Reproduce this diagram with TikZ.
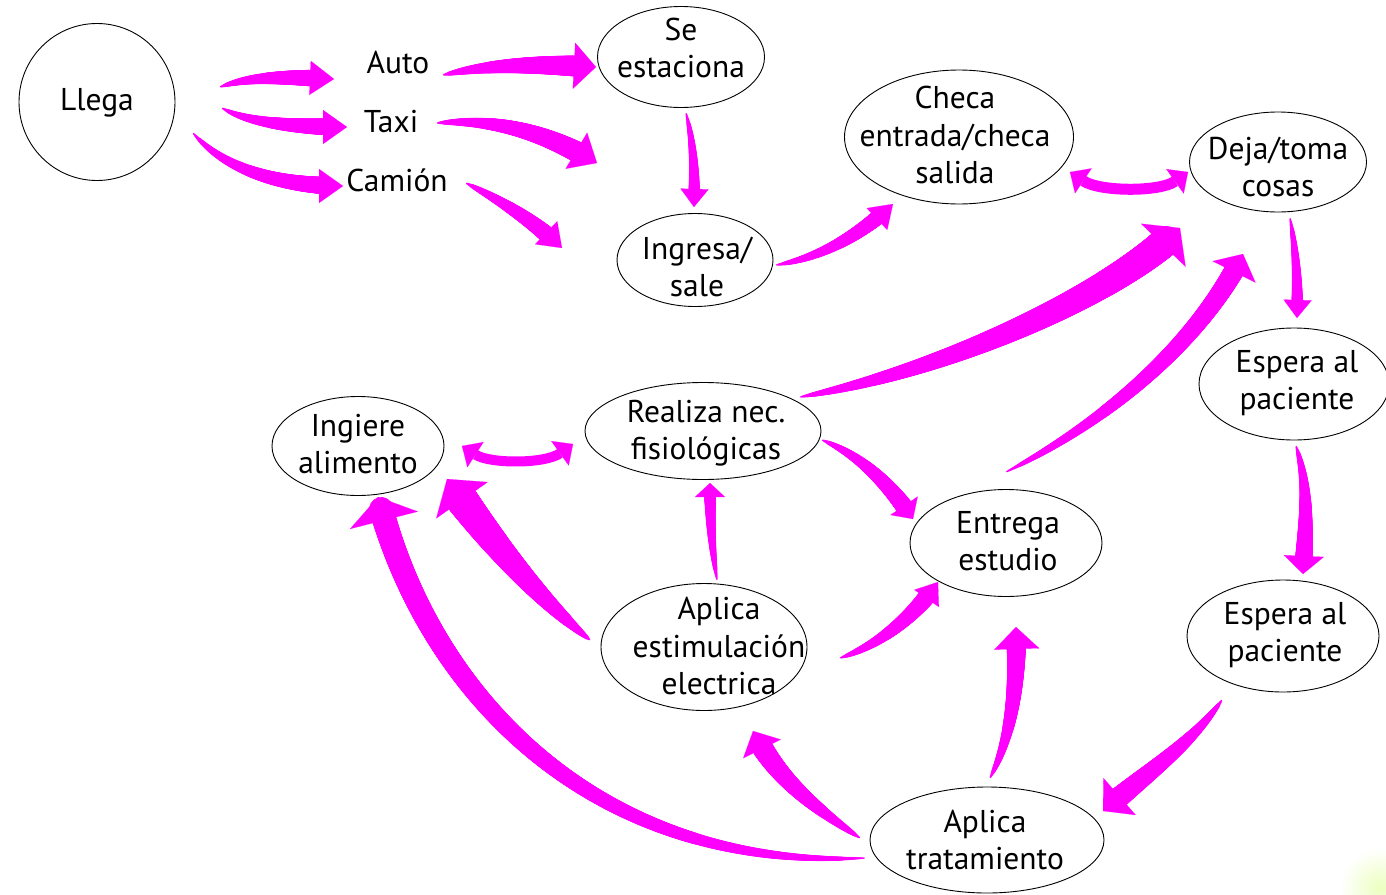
\documentclass[tikz,border=0pt]{standalone}
\usepackage{fontspec}
\setmainfont{PT Sans}
\usetikzlibrary{shapes.geometric,arrows.meta,decorations.markings}
\definecolor{mag}{RGB}{255,0,255}
\tikzset{
  bubble/.style={draw=black, line width=0.9pt, ellipse, inner sep=0pt},
  txt/.style={align=center, inner sep=0pt, font=\fontsize{31.5}{37.5}\selectfont},
  fat/.style n args={3}{%
    draw=mag, line width=0.5pt, -{Triangle[length=#2,width=#3,line width=0.1pt]},
    postaction={decorate,decoration={markings,
      mark=between positions 1pt and -#2 step 0.7pt with {%
        \pgfmathsetmacro\rr{#1*pow(\pgfkeysvalueof{/pgf/decoration/mark info/distance from start}/\pgfdecoratedpathlength,0.6)+0.4}%
        \fill[mag] (0,0) circle[radius=\rr pt];}}}},
  dbl/.style={draw=mag, line width=#1,
    {Triangle[length=16pt,width=30pt,line width=0.1pt]}-{Triangle[length=16pt,width=30pt,line width=0.1pt]}}
}
\begin{document}
\begin{tikzpicture}[x=1pt,y=-1pt]
\useasboundingbox (0,0) rectangle (1386,894);
\fill[white] (0,0) rectangle (1386,894);
\shade[inner color=green!30!yellow!25, outer color=white] (1380,888) circle[radius=40pt];

% nodes (ellipses)
\node[bubble, minimum width=156pt, minimum height=157pt] (llega) at (97,102) {};
\node[bubble, minimum width=167pt, minimum height=101pt] (seest) at (681,57) {};
\node[bubble, minimum width=229pt, minimum height=134pt] (checa) at (959,137) {};
\node[bubble, minimum width=177pt, minimum height=100pt] (deja) at (1278,162) {};
\node[bubble, minimum width=156pt, minimum height=93pt] (ingresa) at (695,260) {};
\node[bubble, minimum width=190pt, minimum height=112pt] (esp1) at (1294,384) {};
\node[bubble, minimum width=172pt, minimum height=99pt] (ingiere) at (358,446) {};
\node[bubble, minimum width=236pt, minimum height=97pt] (realiza) at (703,431) {};
\node[bubble, minimum width=192pt, minimum height=107pt] (entrega) at (1006,543) {};
\node[bubble, minimum width=206pt, minimum height=127pt] (estim) at (704,647) {};
\node[bubble, minimum width=192pt, minimum height=112pt] (esp2) at (1283,636) {};
\node[bubble, minimum width=234pt, minimum height=106pt] (trat) at (987,840) {};

% texts
\node[txt] (tllega) at (97,103) {Llega};
\node[txt] (auto) at (398,62) {Auto};
\node[txt] (taxi) at (391,121) {Taxi};
\node[txt] (camion) at (397,180) {Camión};
\node[txt] (tseest) at (681,48) {Se\\estaciona};
\node[txt] (tchecha) at (955,135) {Checa\\entrada/checa\\salida};
\node[txt] (tdeja) at (1278,167) {Deja/toma\\cosas};
\node[txt] (tingresa) at (697,267) {Ingresa/\\sale};
\node[txt] (tesp1) at (1297,383) {Espera al\\paciente};
\node[txt] (tingiere) at (358,444) {Ingiere\\alimento};
\node[txt] (trealiza) at (706,433) {Realiza nec.\\fisiológicas};
\node[txt] (tentrega) at (1008,541) {Entrega\\estudio};
\node[txt] (testim) at (719,646) {Aplica\\estimulación\\electrica};
\node[txt] (tesp2) at (1285,635) {Espera al\\paciente};
\node[txt] (ttrat) at (985,840) {Aplica\\tratamiento};

% connector end points
\coordinate (a1s) at (220,87);   \coordinate (a1e) at (334,79);
\coordinate (a2s) at (222,108);  \coordinate (a2e) at (347,127);
\coordinate (a3s) at (193,133);  \coordinate (a3e) at (343,186);
\coordinate (a4s) at (443,75);   \coordinate (a4e) at (596,67);
\coordinate (a5s) at (437,123);  \coordinate (a5e) at (597,163);
\coordinate (a6s) at (466,183);  \coordinate (a6e) at (562,248);
\coordinate (a7s) at (686,113);  \coordinate (a7e) at (694,207);
\coordinate (a8s) at (776,265);  \coordinate (a8e) at (893,204);
\coordinate (a10s) at (800,397); \coordinate (a10e) at (1180,228);
\coordinate (a11s) at (1006,472);\coordinate (a11e) at (1243,254);
\coordinate (a12s) at (1290,218);\coordinate (a12e) at (1297,318);
\coordinate (a13s) at (1296,446);\coordinate (a13e) at (1303,574);
\coordinate (a14s) at (1222,700);\coordinate (a14e) at (1103,811);
\coordinate (a15s) at (990,778); \coordinate (a15e) at (1016,627);
\coordinate (a16s) at (860,838); \coordinate (a16e) at (753,731);
\coordinate (a17s) at (865,858); \coordinate (a17e) at (378,497);
\coordinate (a18s) at (590,640); \coordinate (a18e) at (447,479);
\coordinate (a19s) at (717,580); \coordinate (a19e) at (710,483);
\coordinate (a20s) at (840,658); \coordinate (a20e) at (938,582);
\coordinate (a21s) at (822,440); \coordinate (a21e) at (913,519);
\coordinate (d1s) at (1070,172); \coordinate (d1e) at (1188,172);
\coordinate (d2s) at (462,446);  \coordinate (d2e) at (573,444);

% fat arrows
\draw[fat={9}{24pt}{34pt}] (a1s) .. controls (250,76) and (290,77) .. (a1e);
\draw[fat={9}{24pt}{34pt}] (a2s) .. controls (250,124) and (300,127) .. (a2e);
\draw[fat={9}{24pt}{34pt}] (a3s) .. controls (225,170) and (280,186) .. (a3e);
\draw[fat={11}{22pt}{46pt}] (a4s) .. controls (490,64) and (540,64) .. (a4e);
\draw[fat={11}{24pt}{42pt}] (a5s) .. controls (500,118) and (550,135) .. (a5e);
\draw[fat={9}{22pt}{32pt}] (a6s) .. controls (500,200) and (535,222) .. (a6e);
\draw[fat={6}{18pt}{28pt}] (a7s) .. controls (693,140) and (695,170) .. (a7e);
\draw[fat={8}{22pt}{30pt}] (a8s) .. controls (820,258) and (860,235) .. (a8e);
\draw[fat={15}{24pt}{62pt}] (a10s) .. controls (950,370) and (1120,290) .. (a10e);
\draw[fat={10}{20pt}{48pt}] (a11s) .. controls (1110,420) and (1200,340) .. (a11e);
\draw[fat={6}{18pt}{28pt}] (a12s) .. controls (1296,250) and (1298,285) .. (a12e);
\draw[fat={9}{18pt}{40pt}] (a13s) .. controls (1310,490) and (1305,530) .. (a13e);
\draw[fat={11}{22pt}{49pt}] (a14s) .. controls (1190,745) and (1150,770) .. (a14e);
\draw[fat={10}{22pt}{45pt}] (a15s) .. controls (1010,740) and (1018,690) .. (a15e);
\draw[fat={11}{20pt}{42pt}] (a16s) .. controls (810,805) and (775,775) .. (a16e);
\draw[fat={12}{24pt}{70pt}] (a17s) .. controls (600,870) and (430,700) .. (a17e);
\draw[fat={17}{26pt}{63pt}] (a18s) .. controls (540,600) and (490,540) .. (a18e);
\draw[fat={6}{14pt}{30pt}] (a19s) .. controls (712,550) and (710,520) .. (a19e);
\draw[fat={9}{20pt}{30pt}] (a20s) .. controls (880,645) and (915,615) .. (a20e);
\draw[fat={9}{16pt}{33pt}] (a21s) .. controls (860,455) and (890,485) .. (a21e);

% double arrows
\draw[dbl=11pt] (d1s) .. controls (1100,192) and (1160,192) .. (d1e);
\draw[dbl=10pt] (d2s) .. controls (490,464) and (545,464) .. (d2e);
\end{tikzpicture}
\end{document}
